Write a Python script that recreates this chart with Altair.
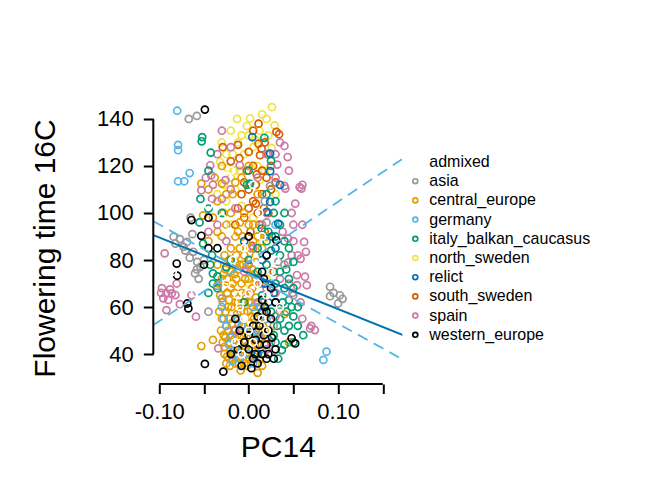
import altair as alt
import pandas as pd

# groups and colours (Okabe-Ito), legend order
groups = ["admixed", "asia", "central_europe", "germany", "italy_balkan_caucasus",
          "north_sweden", "relict", "south_sweden", "spain", "western_europe"]
group_colors = ["#FFFFFF", "#999999", "#E69F00", "#56B4E9", "#009E73",
                "#F0E442", "#0072B2", "#D55E00", "#CC79A7", "#000000"]

# (PC14, flowering time 16C), per group
asia = [(-0.067, 140), (-0.058, 141.3), (-0.065, 98), (-0.084, 89.9), (-0.077, 88.9),
        (-0.082, 87), (-0.069, 87.7), (-0.073, 85.6), (-0.062, 83.5), (-0.0575, 79.2),
        (-0.054, 77.1), (-0.060, 74.3), (-0.056, 72), (-0.066, 81), (-0.071, 84),
        (-0.050, 80), (-0.058, 76), (-0.063, 91), (0.091, 68.6), (0.091, 64.6),
        (0.102, 65), (0.100, 61.5), (0.105, 63.5), (0.095, 66), (0.024, 111.5),
        (0.018, 105), (0.020, 96), (0.033, 79.2), (0.035, 58), (0.028, 52),
        (-0.045, 58), (-0.035, 69), (0.040, 78), (0.012, 47), (0.050, 65), (-0.030, 63.7)]
central_europe = [(-0.030, 55), (-0.025, 52), (-0.028, 48), (-0.022, 45), (-0.020, 42),
                  (-0.018, 38), (-0.015, 36), (-0.012, 40), (-0.010, 44), (-0.008, 48),
                  (-0.006, 52), (-0.004, 38), (-0.002, 35), (0.000, 44), (0.002, 47),
                  (0.004, 42), (0.006, 39), (0.008, 50), (0.010, 44), (0.012, 38),
                  (0.014, 47), (-0.026, 58), (-0.024, 39), (-0.016, 50), (-0.013, 57),
                  (-0.019, 60), (-0.005, 58), (0.003, 56), (-0.027, 43), (-0.021, 35),
                  (-0.009, 33), (0.001, 53), (-0.017, 46), (-0.011, 53), (-0.003, 43),
                  (0.006, 55), (0.016, 52), (0.018, 44), (-0.023, 50), (-0.029, 62),
                  (-0.032, 65), (-0.028, 68), (-0.024, 72), (-0.020, 75), (-0.016, 66),
                  (-0.012, 62), (-0.008, 70), (-0.004, 65), (0.000, 72), (0.004, 68),
                  (0.008, 64), (0.012, 70), (-0.026, 76), (-0.018, 70), (-0.010, 78),
                  (-0.002, 76), (0.006, 74), (0.016, 62), (-0.014, 72), (-0.022, 63),
                  (-0.030, 72), (0.010, 60), (-0.006, 62), (0.002, 80), (-0.035, 78),
                  (-0.030, 112.5), (-0.045, 110), (-0.035, 105), (-0.020, 100), (-0.025, 95),
                  (-0.015, 90), (-0.010, 85), (-0.005, 82), (0.000, 95), (0.005, 88),
                  (-0.020, 85), (-0.030, 90), (0.008, 82), (-0.012, 92), (-0.040, 98),
                  (-0.051, 99), (-0.053, 112.5), (-0.005, 100), (0.002, 85), (-0.018, 108),
                  (0.010, 90), (-0.008, 115), (0.015, 85), (-0.022, 80), (0.000, 120),
                  (-0.030, 120), (-0.053, 43.4), (0.020, 90), (0.040, 57), (0.045, 45),
                  (0.010, 32), (-0.040, 46), (-0.027, 82), (-0.015, 79), (-0.007, 90),
                  (-0.033, 58), (-0.031, 50), (-0.029, 45), (-0.027, 40), (-0.025, 36),
                  (-0.023, 60), (-0.021, 55), (-0.019, 48), (-0.017, 42), (-0.015, 62),
                  (-0.013, 48), (-0.011, 36), (-0.009, 58), (-0.007, 42), (-0.005, 36),
                  (-0.003, 50), (-0.001, 58), (0.001, 38), (0.003, 62), (0.005, 48),
                  (0.007, 58), (0.009, 40), (0.011, 55), (0.013, 60), (0.015, 35),
                  (0.017, 56), (0.019, 50), (0.021, 47), (-0.024, 66), (-0.020, 68),
                  (-0.016, 74), (-0.012, 76), (-0.008, 66), (-0.004, 72), (0.000, 62),
                  (0.004, 76), (0.008, 72), (-0.028, 74), (-0.034, 70), (-0.014, 82),
                  (-0.006, 78), (0.002, 66), (-0.019, 53), (-0.010, 47), (-0.002, 40),
                  (0.007, 44), (-0.026, 47), (-0.014, 39), (0.012, 50), (-0.022, 38),
                  (-0.038, 115), (-0.025, 108), (-0.015, 113), (-0.045, 88), (-0.035, 92),
                  (-0.028, 100), (0.010, 108), (0.005, 95), (-0.010, 96)]
germany = [(-0.080, 143.5), (-0.079, 129), (-0.079, 126.7), (-0.079, 113.5), (-0.072, 113.5),
           (-0.066, 117), (0.087, 41), (0.0835, 37.5), (-0.020, 47), (-0.015, 42),
           (-0.010, 38), (-0.005, 45), (0.000, 40), (-0.025, 52), (0.005, 36),
           (0.010, 48), (-0.012, 55), (0.020, 55), (0.015, 42), (-0.030, 60),
           (0.005, 60), (-0.018, 37), (0.030, 95), (0.025, 70), (-0.022, 44),
           (-0.008, 52), (0.002, 50), (0.012, 60), (-0.028, 55)]
italy = [(-0.052, 132.3), (-0.0526, 130.5), (-0.0425, 125.7), (-0.002, 112), (0.0175, 132),
         (0.025, 122.2), (0.0015, 112.5), (-0.054, 106), (-0.045, 101.9), (-0.051, 87),
         (-0.041, 82), (-0.040, 74.3), (-0.043, 78), (-0.055, 96), (0.050, 79.2),
         (0.0145, 93.4), (0.061, 48), (0.037, 41.7), (0.040, 44), (-0.040, 70),
         (-0.045, 66), (-0.035, 73), (0.020, 88), (0.025, 84), (0.030, 90),
         (0.035, 75), (0.040, 68), (0.045, 63), (0.030, 62), (0.025, 58),
         (0.035, 55), (0.045, 52), (0.050, 56), (0.055, 60), (0.040, 50),
         (0.020, 78), (0.015, 65), (0.010, 75), (-0.005, 62), (0.000, 80),
         (0.030, 45), (0.042, 58), (0.028, 100), (0.020, 108), (0.030, 70),
         (-0.020, 80), (-0.030, 100), (0.045, 85), (0.050, 45), (0.033, 38),
         (0.040, 88), (0.035, 82), (0.045, 72), (0.050, 68), (0.055, 52),
         (0.038, 62), (0.028, 48), (0.032, 52), (0.048, 60), (0.042, 76),
         (0.022, 92), (0.035, 95), (-0.035, 68), (-0.025, 77), (0.025, 75),
         (0.010, 85), (0.030, 105), (0.040, 100), (-0.045, 118), (0.000, 118)]
north_sweden = [(0.026, 145), (0.0015, 140.2), (0.029, 137.3), (0.0257, 127.7), (-0.013, 140),
                (-0.002, 137), (-0.032, 121.7), (-0.024, 119.2), (-0.020, 115), (-0.015, 110),
                (-0.025, 105), (-0.010, 118), (-0.005, 125), (0.005, 128), (-0.018, 125),
                (-0.028, 112), (0.010, 120), (0.012, 135), (-0.008, 103), (0.020, 140),
                (-0.035, 108), (0.000, 112), (-0.012, 130), (0.018, 118), (0.030, 108),
                (0.005, 98), (-0.020, 95), (0.015, 88), (0.020, 72), (-0.010, 85),
                (0.025, 50), (0.000, 70), (-0.030, 130), (-0.020, 135), (-0.008, 133),
                (0.008, 131), (0.015, 142), (-0.025, 125), (0.022, 133), (0.000, 133),
                (-0.016, 118), (0.012, 114)]
relict = [(0.004, 132.3), (0.024, 125.3), (0.024, 117.8), (0.020, 100.5), (0.024, 104.7),
          (0.033, 95.5), (0.030, 85), (0.015, 80), (0.018, 70), (0.022, 62),
          (0.015, 58), (0.028, 66), (-0.005, 88), (0.010, 40), (0.035, 112),
          (0.026, 90), (0.020, 82)]
south_sweden = [(-0.029, 128), (-0.012, 129), (-0.0105, 123.3), (0.011, 138), (0.031, 134.5),
                (0.034, 133.5), (0.011, 129.5), (0.0145, 127.4), (0.0127, 124.6), (0.009, 116.4),
                (0.005, 120), (-0.002, 118), (0.000, 110), (0.005, 105), (0.010, 100),
                (-0.005, 98), (0.012, 95), (0.002, 92), (0.008, 112), (-0.008, 108),
                (0.015, 108), (0.018, 92), (0.004, 86), (-0.012, 102), (0.020, 115),
                (0.025, 120), (-0.015, 95), (0.000, 126), (0.022, 100), (0.028, 75),
                (0.030, 113), (0.018, 130), (0.022, 125), (0.005, 135), (-0.005, 113),
                (0.015, 118), (0.017, 102), (0.025, 110), (0.008, 104), (-0.020, 122),
                (0.000, 102)]
spain = [(-0.097, 68), (-0.092, 65.8), (-0.0955, 63.7), (-0.086, 65.8), (-0.082, 65.1),
         (-0.090, 63), (-0.077, 61.2), (-0.092, 58.7), (-0.0805, 70), (-0.059, 55.9),
         (-0.094, 82.8), (-0.098, 66), (-0.088, 67.5), (-0.064, 65), (-0.043, 120.3),
         (-0.042, 116), (-0.010, 120.3), (-0.026, 114), (-0.053, 109.7), (-0.041, 106),
         (-0.030, 106), (-0.035, 95), (-0.045, 92), (-0.020, 128), (-0.015, 102),
         (0.040, 128.5), (0.0436, 123.8), (0.032, 120.6), (0.040, 111.5), (0.060, 112),
         (0.057, 111), (0.041, 110.4), (0.059, 110.4), (0.052, 104), (0.044, 89.2),
         (0.062, 87.7), (0.064, 83.5), (0.055, 82), (0.048, 82), (0.058, 80.5),
         (0.044, 79), (0.054, 73.6), (0.063, 72.9), (0.065, 69.3), (0.054, 69.3),
         (0.049, 66), (0.0686, 50.9), (0.074, 50.2), (0.070, 52), (0.035, 60),
         (0.030, 66), (0.020, 68), (0.025, 45), (-0.034, 42.4), (-0.015, 50),
         (0.000, 66), (0.010, 62), (0.020, 42), (0.015, 95), (-0.005, 75),
         (0.005, 85), (-0.025, 88), (0.035, 130), (0.030, 115), (0.048, 100), (0.038, 92),
         (-0.030, 135), (-0.035, 125), (0.020, 125), (0.030, 125), (0.045, 118),
         (0.050, 95), (0.060, 95), (0.050, 88), (0.035, 72), (0.045, 70),
         (0.058, 62), (0.060, 55), (0.030, 56), (0.020, 100), (-0.040, 112),
         (-0.020, 110), (0.010, 115), (-0.048, 115), (0.000, 78), (0.015, 70)]
western_europe = [(-0.049, 144), (-0.064, 97), (-0.053, 90.3), (-0.0805, 78.5), (-0.080, 73.3),
                  (-0.0687, 61.5), (-0.0675, 59.4), (-0.049, 35.8), (-0.0284, 32.5), (0.031, 88.4),
                  (0.048, 46.7), (0.052, 44.5), (-0.045, 98), (-0.010, 50), (-0.005, 45),
                  (0.000, 42), (0.005, 38), (0.010, 36), (0.015, 40), (0.020, 44),
                  (0.022, 50), (0.025, 55), (0.018, 60), (0.012, 52), (0.008, 46),
                  (0.003, 34), (-0.008, 35), (-0.015, 55), (0.015, 63), (0.020, 38),
                  (0.010, 56), (0.026, 47), (-0.020, 40), (0.005, 52), (0.030, 42),
                  (0.017, 72), (0.015, 75), (-0.050, 78), (0.000, 90), (0.020, 82),
                  (0.025, 68), (-0.035, 85), (0.000, 48), (0.012, 44), (0.017, 48),
                  (0.022, 40), (0.028, 38), (-0.012, 42), (0.007, 40), (0.020, 58),
                  (0.030, 62), (-0.045, 85)]
admixed = [(-0.045, 103), (-0.030, 98), (-0.018, 80), (-0.010, 60), (0.000, 50),
           (0.005, 45), (-0.015, 45), (0.010, 70), (0.020, 65), (0.015, 55),
           (-0.005, 85), (0.025, 75), (0.030, 80), (-0.025, 70), (-0.012, 65),
           (0.005, 112), (-0.020, 118), (0.035, 60), (-0.008, 40), (0.012, 100),
           (-0.060, 66), (-0.085, 75), (0.000, 66), (-0.022, 92), (0.015, 90),
           (0.020, 50), (-0.005, 55), (0.008, 80)]

# regression line and the two dashed slope-interval lines (end points)
fit_x = [-0.1067, 0.1726]
fit_y = [90.6, 48.1]
band_hi_x = [-0.1067, 0.1718]
band_hi_y = [96.5, 37.8]
band_lo_x = [-0.1067, 0.1718]
band_lo_y = [52.3, 123.0]

x_ticks = [-0.10, -0.05, 0.00, 0.05, 0.10, 0.15]
x_labelled = [-0.10, 0.00, 0.10]
y_ticks = [40, 60, 80, 100, 120, 140]

W, H = 249, 289
FONT = "Liberation Sans"

draw_order = [("north_sweden", north_sweden), ("south_sweden", south_sweden),
              ("central_europe", central_europe), ("spain", spain),
              ("italy_balkan_caucasus", italy), ("asia", asia), ("germany", germany),
              ("relict", relict), ("western_europe", western_europe), ("admixed", admixed)]
rows = [(g, x, y) for g, pts in draw_order for x, y in pts]
points = pd.DataFrame(rows, columns=["group", "pc14", "ft16"])
points["seq"] = range(len(points))

fit_df = pd.DataFrame({"pc14": fit_x, "ft16": fit_y})
band_df = pd.concat([
    pd.DataFrame({"pc14": band_hi_x, "ft16": band_hi_y, "band": "hi"}),
    pd.DataFrame({"pc14": band_lo_x, "ft16": band_lo_y, "band": "lo"}),
])
x_line_df = pd.DataFrame({"pc14": [min(x_ticks)], "pc14_end": [max(x_ticks)]})
y_line_df = pd.DataFrame({"ft16": [min(y_ticks)], "ft16_end": [max(y_ticks)]})

x_scale = alt.Scale(domain=[-0.1067, 0.1718], nice=False, zero=False)
y_scale = alt.Scale(domain=[27.25, 150.2], nice=False, zero=False)

label_list = ",".join(str(v) for v in x_labelled)
x_axis = alt.Axis(
    values=x_ticks, domain=False, grid=False, tickSize=9.5, tickWidth=2, tickColor="black",
    labelExpr=f"indexof([{label_list}], datum.value) >= 0 ? replace(format(datum.value, '.2f'), '\u2212', '-') : ''",
    labelFontSize=22, labelPadding=8, labelColor="black", labelFont=FONT,
    labelFlush=False, labelOverlap=False,
    title="PC14", titleFontSize=30, titleFontWeight="normal", titleFont=FONT,
    titleColor="black", titleBaseline="alphabetic", titleY=73,
)
y_axis = alt.Axis(
    values=y_ticks, domain=False, grid=False, tickSize=10, tickWidth=2, tickColor="black",
    labelFontSize=22, labelPadding=10, labelColor="black", labelFont=FONT,
    labelFlush=False, labelOverlap=False,
    title="Flowering time 16C", titleFontSize=30, titleFontWeight="normal", titleFont=FONT,
    titleColor="black", titleAngle=270, titleBaseline="alphabetic", titleAlign="center",
    titleX=-99, titleY=153,
)

dots = alt.Chart(points).mark_point(
    shape="circle", filled=False, size=50, strokeWidth=1.7, opacity=1
).encode(
    x=alt.X("pc14:Q", scale=x_scale, axis=x_axis),
    y=alt.Y("ft16:Q", scale=y_scale, axis=y_axis),
    color=alt.Color(
        "group:N",
        scale=alt.Scale(domain=groups, range=group_colors),
        title=None,
        legend=alt.Legend(
            orient="none", legendX=254, legendY=59, padding=0, labelLimit=400,
            labelFont=FONT, labelFontSize=16, labelColor="black", labelOffset=6,
            symbolType="circle", symbolSize=24, symbolStrokeWidth=1.7, rowPadding=3.2,
        ),
    ),
    order=alt.Order("seq:Q"),
)

fit = alt.Chart(fit_df).mark_line(color="#0072B2", strokeWidth=2, clip=True).encode(
    x=alt.X("pc14:Q", scale=x_scale), y=alt.Y("ft16:Q", scale=y_scale)
)
bands = alt.Chart(band_df).mark_line(
    color="#56B4E9", strokeWidth=1.8, strokeDash=[11, 7], clip=True
).encode(
    x=alt.X("pc14:Q", scale=x_scale), y=alt.Y("ft16:Q", scale=y_scale), detail="band:N"
)

x_line = alt.Chart(x_line_df).mark_rule(color="black", strokeWidth=2).encode(
    x=alt.X("pc14:Q", scale=x_scale), x2="pc14_end:Q", y=alt.value(H)
)
y_line = alt.Chart(y_line_df).mark_rule(color="black", strokeWidth=2).encode(
    y=alt.Y("ft16:Q", scale=y_scale), y2="ft16_end:Q", x=alt.value(0)
)

chart = (
    alt.layer(dots, fit, bands, x_line, y_line)
    .properties(
        width=W, height=H,
        autosize=alt.AutoSizeParams(type="none"),
        padding={"left": 145.3, "top": 87, "right": 250, "bottom": 90},
        view=alt.ViewBackground(stroke="transparent", strokeWidth=0),
    )
    .configure_view(stroke="transparent", strokeWidth=0)
    .configure(font=FONT)
)

chart.save("out.html", embed_options={"renderer": "svg", "actions": False})
